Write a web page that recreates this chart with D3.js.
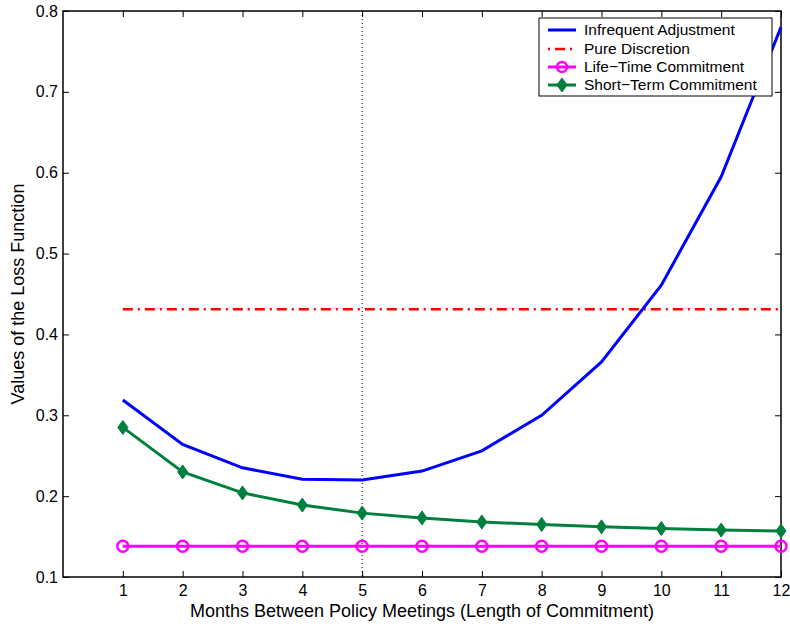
<!DOCTYPE html>
<html>
<head>
<meta charset="utf-8">
<script src="https://cdn.jsdelivr.net/npm/d3@7"></script>
<style>
  body { margin: 0; background: #fff; }
  text { font-family: "Liberation Sans", Arial, sans-serif; }
</style>
</head>
<body>
<div id="chart"></div>
<script>
// chart values
let months = [1, 2, 3, 4, 5, 6, 7, 8, 9, 10, 11, 12];
let infrequent = [0.319, 0.264, 0.235, 0.221, 0.220, 0.231, 0.256, 0.300, 0.366, 0.461, 0.595, 0.780];
let pureDiscretion = 0.431;
let lifeTime = [0.138, 0.138, 0.138, 0.138, 0.138, 0.138, 0.138, 0.138, 0.138, 0.138, 0.138, 0.138];
let shortTerm = [0.285, 0.230, 0.204, 0.189, 0.179, 0.173, 0.168, 0.165, 0.162, 0.160, 0.158, 0.157];
let yTicks = [0.1, 0.2, 0.3, 0.4, 0.5, 0.6, 0.7, 0.8];
let legendNames = ["Infrequent Adjustment", "Pure Discretion", "Life\u2212Time Commitment", "Short\u2212Term Commitment"];

var svgwidth = 790, svgheight = 626;
var margin = {top: 11, left: 63, right: 9, bottom: 49};
var ChartWidth = svgwidth - margin.left - margin.right;
var Chartheight = svgheight - margin.top - margin.bottom;

var svg = d3.select("#chart").append("svg")
  .attr("width", svgwidth)
  .attr("height", svgheight);

var chartgroup = svg.append("g").attr("transform", `translate(${margin.left},${margin.top})`);

var x = d3.scaleLinear().domain([0, 12]).range([0, ChartWidth]);
var y = d3.scaleLinear().domain([0.1, 0.8]).range([Chartheight, 0]);

// axes with inward ticks (matlab style)
var tk = 6;
function styleAxis(g) {
  g.select(".domain").remove();
  g.selectAll("line").attr("stroke", "#000").attr("stroke-width", 1);
  g.selectAll("text").attr("font-size", "16px").attr("fill", "#000")
    .attr("font-family", "Liberation Sans, Arial, sans-serif");
}
chartgroup.append("g").attr("transform", `translate(0,${Chartheight})`)
  .call(d3.axisBottom(x).tickValues(months).tickSizeInner(-tk).tickSizeOuter(0).tickPadding(8))
  .call(styleAxis);
chartgroup.append("g")
  .call(d3.axisLeft(y).tickValues(yTicks).tickFormat(d3.format(".1f")).tickSizeInner(-tk).tickSizeOuter(0).tickPadding(5))
  .call(styleAxis);
chartgroup.append("g")
  .call(d3.axisTop(x).tickValues(months).tickSizeInner(-tk).tickSizeOuter(0).tickFormat(""))
  .call(styleAxis);
chartgroup.append("g").attr("transform", `translate(${ChartWidth},0)`)
  .call(d3.axisRight(y).tickValues(yTicks).tickSizeInner(-tk).tickSizeOuter(0).tickFormat(""))
  .call(styleAxis);

// box
chartgroup.append("rect")
  .attr("width", ChartWidth).attr("height", Chartheight)
  .attr("fill", "none").attr("stroke", "#000").attr("stroke-width", 1.5);

// dotted vertical line at 5
chartgroup.append("line")
  .attr("x1", x(5)).attr("x2", x(5)).attr("y1", 0).attr("y2", Chartheight)
  .attr("stroke", "#000").attr("stroke-width", 1).attr("stroke-dasharray", "1,3");

var line = d3.line().x((d, i) => x(months[i])).y(d => y(d));

// pure discretion
chartgroup.append("line")
  .attr("x1", x(months[0])).attr("x2", x(months[months.length - 1]))
  .attr("y1", y(pureDiscretion)).attr("y2", y(pureDiscretion))
  .attr("stroke", "#ff0000").attr("stroke-width", 2.5).attr("stroke-dasharray", "10,5,2,5");

// infrequent adjustment
chartgroup.append("path").datum(infrequent)
  .attr("d", line).attr("fill", "none").attr("stroke", "#0000ff").attr("stroke-width", 3);

// life-time
chartgroup.append("path").datum(lifeTime)
  .attr("d", line).attr("fill", "none").attr("stroke", "#ff00ff").attr("stroke-width", 3);
chartgroup.selectAll(".lt").data(lifeTime).enter().append("circle")
  .attr("cx", (d, i) => x(months[i])).attr("cy", d => y(d)).attr("r", 5.5)
  .attr("fill", "none").attr("stroke", "#ff00ff").attr("stroke-width", 2.5);

// short-term
var green = "#00803f";
chartgroup.append("path").datum(shortTerm)
  .attr("d", line).attr("fill", "none").attr("stroke", green).attr("stroke-width", 3);
var diamond = "M0,-7L5,0L0,7L-5,0Z";
chartgroup.selectAll(".st").data(shortTerm).enter().append("path")
  .attr("transform", (d, i) => `translate(${x(months[i])},${y(d)})`)
  .attr("d", diamond).attr("fill", green).attr("stroke", green).attr("stroke-width", 1);

// legend
var lg = svg.append("g").attr("transform", "translate(539,18)");
lg.append("rect").attr("width", 233).attr("height", 78)
  .attr("fill", "#fff").attr("stroke", "#000").attr("stroke-width", 1);
var rowY = [12, 31, 49, 67];
var lx1 = 9, lx2 = 37;
// row 0
lg.append("line").attr("x1", lx1).attr("x2", lx2).attr("y1", rowY[0]).attr("y2", rowY[0])
  .attr("stroke", "#0000ff").attr("stroke-width", 3);
// row 1
lg.append("line").attr("x1", lx1).attr("x2", lx2).attr("y1", rowY[1]).attr("y2", rowY[1])
  .attr("stroke", "#ff0000").attr("stroke-width", 2.5).attr("stroke-dasharray", "2,5,10,5");
// row 2
lg.append("line").attr("x1", lx1).attr("x2", lx2).attr("y1", rowY[2]).attr("y2", rowY[2])
  .attr("stroke", "#ff00ff").attr("stroke-width", 3);
lg.append("circle").attr("cx", (lx1 + lx2) / 2).attr("cy", rowY[2]).attr("r", 5)
  .attr("fill", "none").attr("stroke", "#ff00ff").attr("stroke-width", 2.5);
// row 3
lg.append("line").attr("x1", lx1).attr("x2", lx2).attr("y1", rowY[3]).attr("y2", rowY[3])
  .attr("stroke", green).attr("stroke-width", 3);
lg.append("path").attr("transform", `translate(${(lx1 + lx2) / 2},${rowY[3]})`)
  .attr("d", diamond).attr("fill", green).attr("stroke", green);
lg.selectAll(".lt").data(legendNames).enter().append("text")
  .attr("x", 45).attr("y", (d, i) => rowY[i]).attr("dy", "0.35em")
  .attr("font-size", "15.5px").attr("fill", "#000")
  .text(d => d);

// axis titles
svg.append("text")
  .attr("x", margin.left + ChartWidth / 2).attr("y", 617)
  .attr("text-anchor", "middle").attr("font-size", "18px")
  .text("Months Between Policy Meetings (Length of Commitment)");
svg.append("text")
  .attr("transform", `translate(24,${margin.top + Chartheight / 2}) rotate(-90)`)
  .attr("text-anchor", "middle").attr("font-size", "18px")
  .text("Values of the Loss Function");
</script>
</body>
</html>
